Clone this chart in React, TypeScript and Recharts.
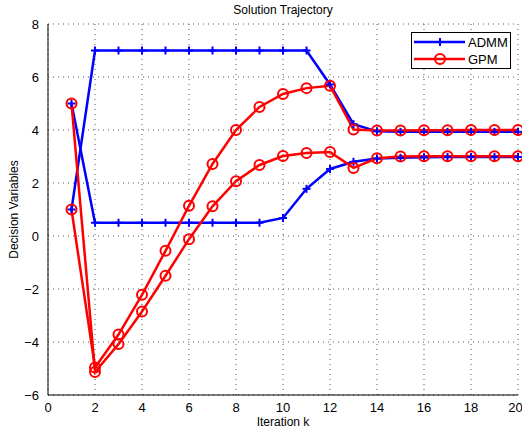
import {LineChart, Line, XAxis, YAxis, CartesianGrid, Legend, Label} from "recharts";

const iterations = [1, 2, 3, 4, 5, 6, 7, 8, 9, 10, 11, 12, 13, 14, 15, 16, 17, 18, 19, 20];
const admmA = [1, 7, 7, 7, 7, 7, 7, 7, 7, 7, 7, 5.72, 4.22, 3.95, 3.93, 3.93, 3.93, 3.93, 3.93, 3.93];
const admmB = [5, 0.5, 0.5, 0.5, 0.5, 0.5, 0.5, 0.5, 0.5, 0.68, 1.78, 2.53, 2.8, 2.92, 2.95, 2.97, 2.98, 2.98, 2.98, 2.98];
const gpmA = [1, -4.96, -3.72, -2.22, -0.56, 1.14, 2.72, 4.0, 4.87, 5.36, 5.58, 5.67, 4.02, 3.98, 3.98, 3.99, 3.99, 4.0, 4.0, 4.0];
const gpmB = [5, -5.13, -4.08, -2.85, -1.5, -0.12, 1.12, 2.07, 2.68, 3.02, 3.13, 3.17, 2.57, 2.93, 3.0, 3.01, 3.01, 3.01, 3.01, 3.01];
const xTicks = [0, 2, 4, 6, 8, 10, 12, 14, 16, 18, 20];
const yTicks = [-6, -4, -2, 0, 2, 4, 6, 8];

const data = iterations.map((k, i) => ({
  k,
  admmA: admmA[i],
  admmB: admmB[i],
  gpmA: gpmA[i],
  gpmB: gpmB[i],
}));

const font = "Liberation Sans, Arial, sans-serif";
const fmt = (v: number) => String(v).replace("-", "\u2212");

const PlusDot = (props: any) => {
  const {cx, cy} = props;
  if (cx == null || cy == null) return null;
  return (
    <g stroke="#0000ff" strokeWidth={2}>
      <line x1={cx - 4} y1={cy} x2={cx + 4} y2={cy} />
      <line x1={cx} y1={cy - 4} x2={cx} y2={cy + 4} />
    </g>
  );
};

const CircleDot = (props: any) => {
  const {cx, cy} = props;
  if (cx == null || cy == null) return null;
  return <circle cx={cx} cy={cy} r={5} fill="none" stroke="#ff0000" strokeWidth={2} />;
};

const LegendBox = () => (
  <div
    style={{
      border: "1px solid #000",
      background: "#fff",
      width: 100,
      height: 37,
      boxSizing: "border-box",
    }}
  >
    <svg width={98} height={35} style={{display: "block"}}>
      <line x1={2} y1={9} x2={53} y2={9} stroke="#0000ff" strokeWidth={2.5} />
      <PlusDot cx={28} cy={9} />
      <text x={56} y={14} fontSize={13} fontFamily={font}>ADMM</text>
      <line x1={2} y1={26} x2={53} y2={26} stroke="#ff0000" strokeWidth={2.5} />
      <CircleDot cx={28} cy={26} />
      <text x={56} y={31} fontSize={13} fontFamily={font}>GPM</text>
    </svg>
  </div>
);

const App = () => {
  return (
    <div style={{position: "fixed", left: 0, top: 0, width: 522, height: 433, background: "#fff"}}>
      <svg width={522} height={24} style={{position: "absolute", left: 0, top: 0}}>
        <text x={283} y={14} textAnchor="middle" fontSize={12} fontFamily={font}>
          Solution Trajectory
        </text>
      </svg>
      <LineChart width={522} height={433} data={data} margin={{top: 24, right: 4, left: 0, bottom: 0}}>
        <CartesianGrid stroke="#555" strokeDasharray="1 4" />
        <XAxis
          dataKey="k"
          type="number"
          domain={[0, 20]}
          ticks={xTicks}
          height={38}
          tickLine={false}
          axisLine={{stroke: "#000"}}
          tick={{fill: "#000", fontSize: 13, fontFamily: font}}
          tickMargin={2}
        >
          <Label value="Iteration k" position="insideBottom" offset={7} fill="#000" fontSize={12} fontFamily={font} />
        </XAxis>
        <YAxis
          type="number"
          domain={[-6, 8]}
          ticks={yTicks}
          width={48}
          tickLine={false}
          axisLine={{stroke: "#000"}}
          tickFormatter={fmt}
          tick={{fill: "#000", fontSize: 13, fontFamily: font}}
          tickMargin={3}
        >
          <Label
            value="Decision Variables"
            angle={-90}
            position="insideLeft"
            offset={14}
            style={{textAnchor: "middle"}}
            fill="#000"
            fontSize={12}
            fontFamily={font}
          />
        </YAxis>
        <Legend
          layout="vertical"
          align="center"
          verticalAlign="middle"
          wrapperStyle={{position: "absolute", left: 411, top: 32, width: 100}}
          content={() => <LegendBox />}
        />
        <Line dataKey="admmA" stroke="#0000ff" strokeWidth={2.5} dot={<PlusDot />} isAnimationActive={false} />
        <Line dataKey="admmB" stroke="#0000ff" strokeWidth={2.5} dot={<PlusDot />} isAnimationActive={false} />
        <Line dataKey="gpmA" stroke="#ff0000" strokeWidth={2.5} dot={<CircleDot />} isAnimationActive={false} />
        <Line dataKey="gpmB" stroke="#ff0000" strokeWidth={2.5} dot={<CircleDot />} isAnimationActive={false} />
      </LineChart>
    </div>
  );
};

export default App;
